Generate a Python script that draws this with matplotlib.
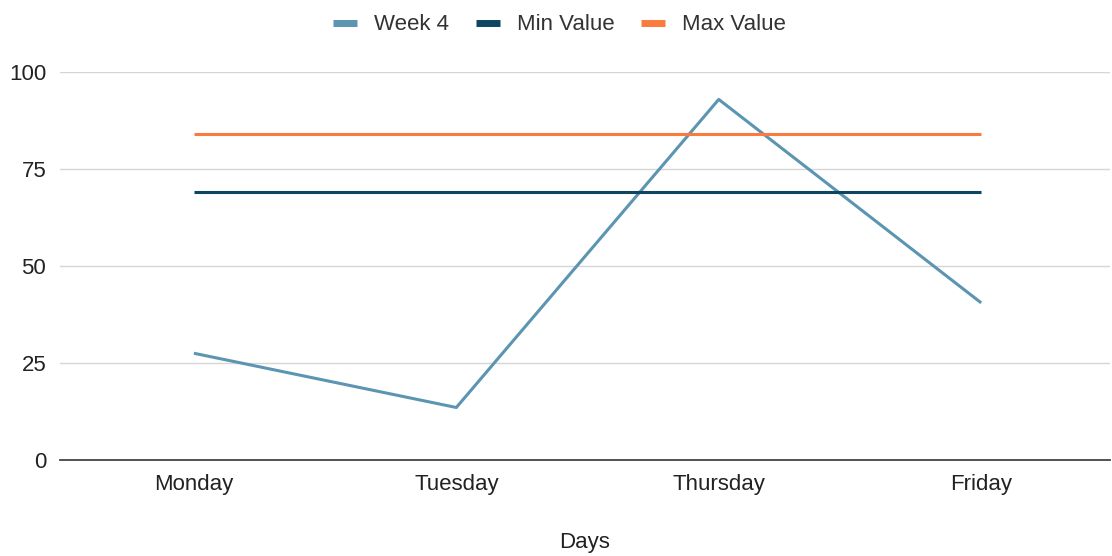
import matplotlib.pyplot as plt

days = ['Monday', 'Tuesday', 'Thursday', 'Friday']
week4 = [27.5, 13.5, 93, 40.5]
min_value = [69, 69, 69, 69]
max_value = [84, 84, 84, 84]
yticks = [0, 25, 50, 75, 100]

plt.rcParams['font.family'] = ['Liberation Sans', 'DejaVu Sans']

fig = plt.figure(figsize=(11.12, 5.56), dpi=100)
ax = fig.add_axes([0.054, 0.173, 0.944, 0.697])

x = range(len(days))
ax.plot(x, week4, color='#5b95b1', lw=2.2, label='Week 4', solid_capstyle='butt')
ax.plot(x, min_value, color='#0e4562', lw=2.2, label='Min Value', solid_capstyle='butt')
ax.plot(x, max_value, color='#fb7a3e', lw=2.2, label='Max Value', solid_capstyle='butt')

ax.set_xlim(-0.51, 3.49)
ax.set_ylim(0, 100)
ax.set_yticks(yticks)
ax.set_xticks(list(x))
ax.set_xticklabels(days)
ax.yaxis.grid(True, color='#d6d6d6', lw=1)
ax.set_axisbelow(True)
for s in ['top', 'right', 'left']:
    ax.spines[s].set_visible(False)
ax.spines['bottom'].set_color('#444444')
ax.spines['bottom'].set_linewidth(1.3)
ax.tick_params(axis='both', length=0, labelsize=16, colors='#222222')
ax.tick_params(axis='x', pad=10)
ax.tick_params(axis='y', pad=10)
ax.set_xlabel('Days', fontsize=16, color='#222222', labelpad=27)

fig.legend(loc='upper center', bbox_to_anchor=(0.503, 1.01), ncol=3, frameon=False,
           fontsize=16, handlelength=1.1, handletextpad=0.75, columnspacing=1.2,
           labelcolor='#333333')
for h in fig.legends[0].get_lines():
    h.set_linewidth(5)

fig.savefig('out.png', dpi=100)
